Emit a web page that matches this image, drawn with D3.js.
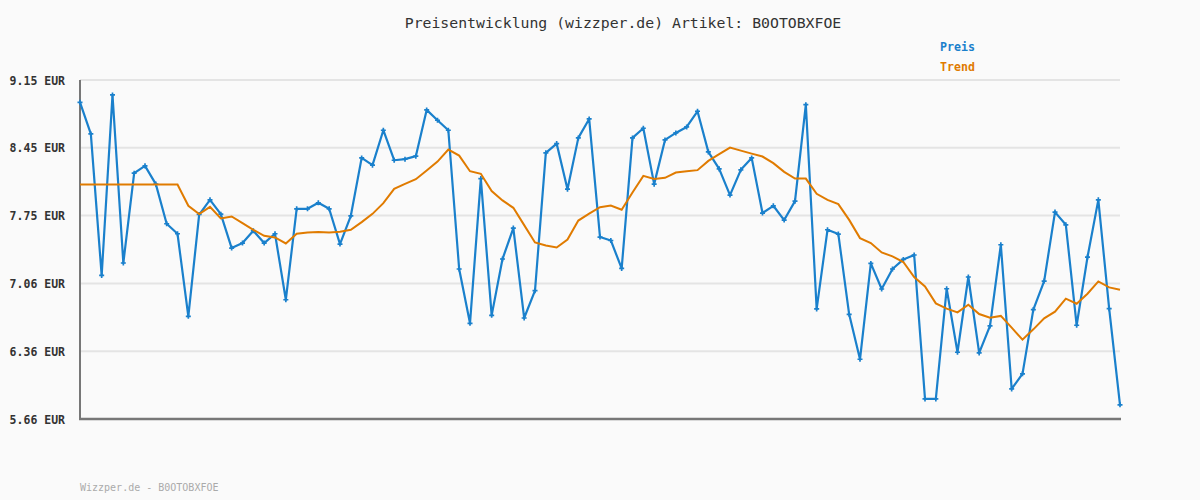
<!DOCTYPE html>
<html><head><meta charset="utf-8">
<script src="https://cdn.jsdelivr.net/npm/d3@7"></script>
<style>
html,body{margin:0;padding:0;background:#fafafa;}
svg{display:block;}
</style></head>
<body>
<svg id="chart" width="1200" height="500"></svg>
<script>
const titleText = "Preisentwicklung (wizzper.de) Artikel: B0OTOBXFOE";
const footerText = "Wizzper.de - B0OTOBXFOE";
const seriesNames = ["Preis", "Trend"];
const yTicks = [9.15, 8.452, 7.754, 7.056, 6.358, 5.66];
const yDomain = [5.66, 9.15];

const price = [8.92,8.595,7.138,8.996,7.266,8.191,8.266,8.078,7.670,7.567,
  6.717,7.765,7.916,7.769,7.420,7.471,7.598,7.471,7.567,6.888,
  7.824,7.824,7.886,7.824,7.461,7.752,8.348,8.273,8.633,8.324,
  8.335,8.366,8.842,8.736,8.633,7.204,6.645,8.135,6.727,7.307,
  7.625,6.700,6.981,8.400,8.495,8.026,8.554,8.749,7.533,7.498,
  7.210,8.554,8.653,8.078,8.533,8.605,8.667,8.828,8.410,8.235,
  7.965,8.225,8.348,7.780,7.855,7.708,7.903,8.896,6.793,7.608,
  7.564,6.738,6.275,7.262,6.998,7.204,7.303,7.348,5.867,5.867,
  7.001,6.347,7.122,6.340,6.618,7.454,5.970,6.125,6.786,7.080,
  7.790,7.659,6.625,7.327,7.916,6.796,5.806];

const trend = [8.074,8.074,8.074,8.074,8.074,8.074,8.074,8.074,8.074,8.074,
  7.855,7.769,7.844,7.724,7.745,7.677,7.608,7.546,7.529,7.467,
  7.567,7.581,7.585,7.581,7.587,7.608,7.687,7.772,7.882,8.030,
  8.081,8.129,8.218,8.310,8.434,8.372,8.211,8.184,8.006,7.910,
  7.834,7.656,7.477,7.447,7.426,7.508,7.703,7.775,7.841,7.858,
  7.814,7.992,8.163,8.132,8.143,8.197,8.211,8.222,8.317,8.386,
  8.454,8.423,8.392,8.362,8.294,8.204,8.135,8.135,7.978,7.916,
  7.872,7.710,7.522,7.471,7.375,7.334,7.276,7.122,7.025,6.850,
  6.796,6.758,6.837,6.741,6.703,6.721,6.601,6.477,6.583,6.696,
  6.765,6.899,6.847,6.950,7.076,7.015,6.991];

const colors = {Preis:"#1a80cc", Trend:"#e07b00"};
const svg = d3.select("#chart");
const W = 1200, H = 500;
const m = {left:80, right:80, top:80, bottom:81};

svg.append("rect").attr("width",W).attr("height",H).attr("fill","#fafafa");

const x = d3.scaleLinear().domain([0, price.length-1]).range([m.left, W-m.right]);
const y = d3.scaleLinear().domain(yDomain).range([H-m.bottom, m.top]);

// gridlines
svg.append("g").selectAll("line").data(yTicks).join("line")
  .attr("x1", m.left).attr("x2", W-m.right)
  .attr("y1", d=>y(d)).attr("y2", d=>y(d))
  .attr("stroke","#e4e4e4").attr("stroke-width",2);

// y labels
const yAxis = d3.axisLeft(y).tickValues(yTicks).tickSize(0).tickPadding(15)
  .tickFormat(d=>d3.format(".2f")(d)+" EUR");
const ga = svg.append("g").attr("transform",`translate(${m.left},0)`).call(yAxis);
ga.select(".domain").remove();
ga.selectAll("text").attr("font-family","'DejaVu Sans Mono', monospace")
  .attr("font-size","11.5px").attr("font-weight","bold").attr("fill","#333")
  .attr("dy","0.36em");

// axes lines
svg.append("line").attr("x1",m.left).attr("x2",m.left).attr("y1",m.top).attr("y2",H-m.bottom+1)
  .attr("stroke","#777").attr("stroke-width",2);
svg.append("line").attr("x1",m.left-1).attr("x2",W-m.right+1).attr("y1",H-m.bottom).attr("y2",H-m.bottom)
  .attr("stroke","#777").attr("stroke-width",2.5);

const line = d3.line().x((d,i)=>x(i)).y(d=>y(d));

svg.append("path").datum(price).attr("d",line).attr("fill","none")
  .attr("stroke",colors.Preis).attr("stroke-width",2.2).attr("stroke-linejoin","round");

const sym = d3.symbol().type(d3.symbolCross).size(14);
svg.append("g").selectAll("path").data(price).join("path")
  .attr("transform",(d,i)=>`translate(${x(i)},${y(d)})`)
  .attr("d",sym).attr("fill",colors.Preis);

svg.append("path").datum(trend).attr("d",line).attr("fill","none")
  .attr("stroke",colors.Trend).attr("stroke-width",2).attr("stroke-linejoin","miter");

// title
svg.append("text").attr("x",623).attr("y",28).attr("text-anchor","middle")
  .attr("font-family","'DejaVu Sans Mono', monospace").attr("font-size","14.8px")
  .attr("fill","#333").text(titleText);

// legend
svg.append("g").selectAll("text").data(seriesNames).join("text")
  .attr("x",940).attr("y",(d,i)=>47+i*20).attr("dy","0.36em")
  .attr("font-family","'DejaVu Sans Mono', monospace").attr("font-size","11.6px")
  .attr("font-weight","bold").attr("fill",d=>colors[d]).text(d=>d);

// footer
svg.append("text").attr("x",80).attr("y",487).attr("dy","0.36em")
  .attr("font-family","'DejaVu Sans Mono', monospace").attr("font-size","10px")
  .attr("fill","#aaa").text(footerText);
</script>
</body></html>
